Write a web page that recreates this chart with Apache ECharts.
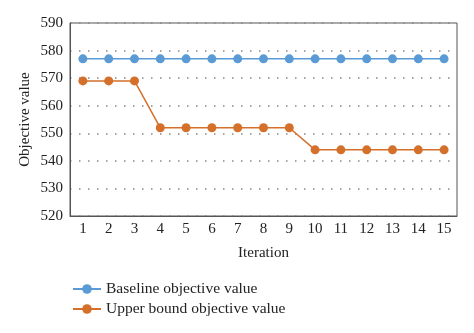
<!DOCTYPE html>
<html>
<head>
<meta charset="utf-8">
<script src="https://cdn.jsdelivr.net/npm/echarts@6/dist/echarts.min.js"></script>
<style>html,body{margin:0;padding:0;background:#fff}#c{width:474px;height:333px}</style>
</head>
<body>
<div id="c"></div>
<script>
const iterations = ['1','2','3','4','5','6','7','8','9','10','11','12','13','14','15'];
const baseline = [577,577,577,577,577,577,577,577,577,577,577,577,577,577,577];
const upperBound = [569,569,569,552,552,552,552,552,552,544,544,544,544,544,544];
const seriesNames = ['Baseline objective value','Upper bound objective value'];

const font = 'Liberation Serif';
const chart = echarts.init(document.getElementById('c'));
chart.setOption({
  animation: false,
  textStyle: {fontFamily: font},
  grid: {left: 70, right: 17, top: 23, bottom: 117, show: true, borderColor: '#555', borderWidth: 1},
  legend: {
    orient: 'vertical', left: 67, top: 276, itemWidth: 28, itemHeight: 12, itemGap: 4,
    textStyle: {fontFamily: font, fontSize: 15.5, color: '#222'},
    data: seriesNames
  },
  xAxis: {
    type: 'category', data: iterations, boundaryGap: true,
    name: 'Iteration', nameLocation: 'middle', nameGap: 30,
    nameTextStyle: {fontFamily: font, fontSize: 15, color: '#222'},
    axisLine: {lineStyle: {color: '#555'}}, axisTick: {show: false},
    axisLabel: {fontFamily: font, fontSize: 15, color: '#222', margin: 6}
  },
  yAxis: {
    type: 'value', min: 520, max: 590, interval: 10,
    name: 'Objective value', nameLocation: 'middle', nameGap: 37, nameMoveOverlap: false,
    nameTextStyle: {fontFamily: font, fontSize: 15, color: '#222'},
    axisLine: {show: true, lineStyle: {color: '#555'}}, axisTick: {show: false},
    axisLabel: {fontFamily: font, fontSize: 15, color: '#222', margin: 7},
    splitLine: {show: true, lineStyle: {color: '#888', type: [1.5, 7.5], width: 1.5}}
  },
  series: [
    {name: seriesNames[0], type: 'line', data: baseline, symbol: 'circle', symbolSize: 9,
     itemStyle: {color: '#5B9BD5'}, lineStyle: {color: '#5B9BD5', width: 1.5}},
    {name: seriesNames[1], type: 'line', data: upperBound, symbol: 'circle', symbolSize: 9,
     itemStyle: {color: '#D4702A'}, lineStyle: {color: '#D4702A', width: 1.5}}
  ]
});
</script>
</body>
</html>
